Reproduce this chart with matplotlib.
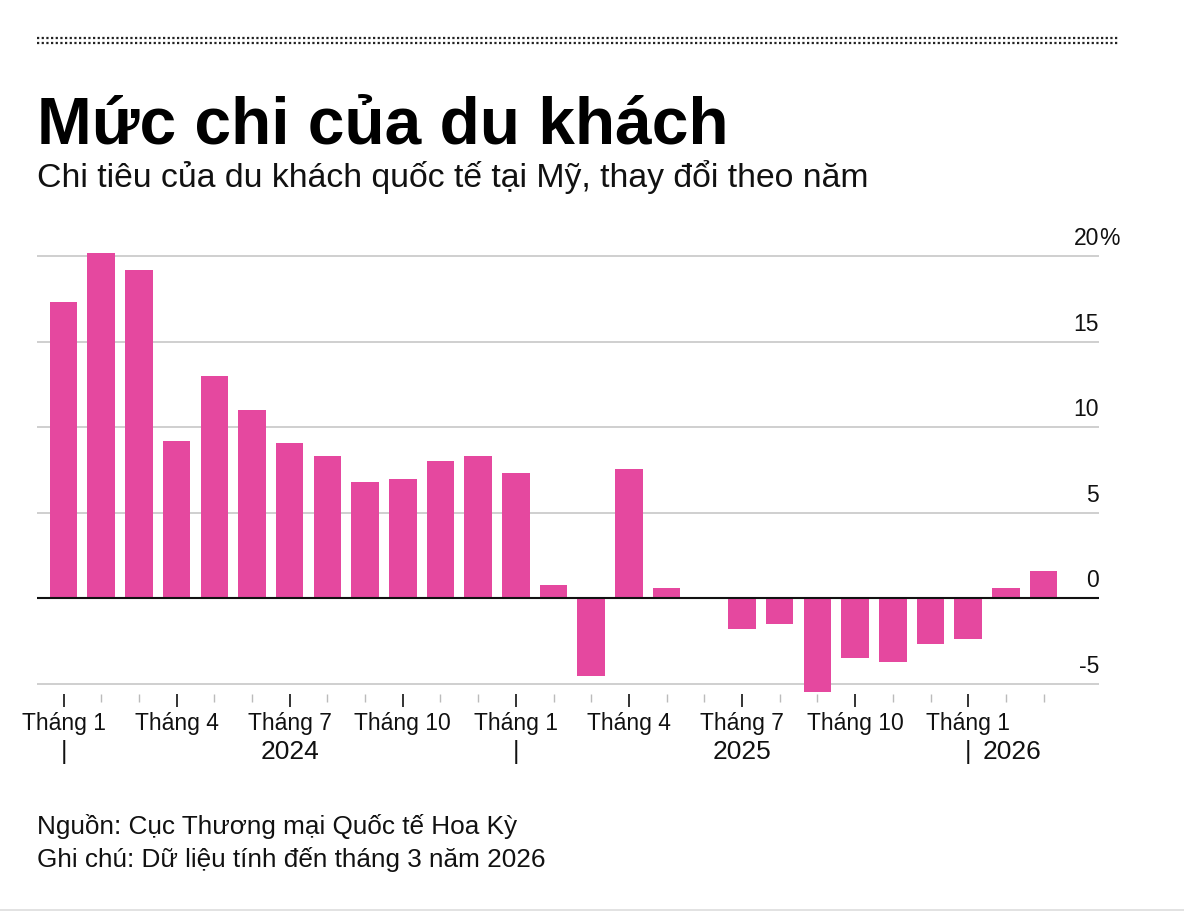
import matplotlib
matplotlib.use("Agg")
import matplotlib.pyplot as plt
from matplotlib.lines import Line2D

plt.rcParams['font.family'] = ['Liberation Sans', 'DejaVu Sans']

# Data: YoY change in international visitor spending in the US, Jan 2024 - Mar 2026
months = ["Tháng 1", "", "", "Tháng 4", "", "", "Tháng 7", "", "", "Tháng 10", "", "",
          "Tháng 1", "", "", "Tháng 4", "", "", "Tháng 7", "", "", "Tháng 10", "", "",
          "Tháng 1", "", ""]
values = [17.3, 20.2, 19.2, 9.2, 13.0, 11.0, 9.1, 8.3, 6.8, 7.0, 8.0, 8.3,
          7.3, 0.8, -4.55, 7.55, 0.6, 0.0, -1.8, -1.5, -5.5, -3.5, -3.7, -2.7,
          -2.4, 0.6, 1.6]
years = ["2024", "2025", "2026"]
y_ticks = [-5, 0, 5, 10, 15, 20]

W, H = 1184, 911
fig = plt.figure(figsize=(W / 100, H / 100), dpi=100)
fig.patch.set_facecolor("white")

def fy(px):
    return 1 - px / H

def fx(px):
    return px / W

# dotted rule at the top (two rows)
for ypx in (37.5, 43):
    fig.add_artist(Line2D([fx(37), fx(1118)], [fy(ypx), fy(ypx)], color="#222222",
                          lw=1.6, linestyle=(0, (1, 1.1)), solid_capstyle="butt"))
# thin rule at bottom
fig.add_artist(Line2D([0, 1], [fy(909.5), fy(909.5)], color="#dddddd", lw=1.2))

fig.text(fx(37), fy(143), "Mức chi của du khách", fontsize=47.4, fontweight="bold", color="#000000")
fig.text(fx(37), fy(187), "Chi tiêu của du khách quốc tế tại Mỹ, thay đổi theo năm",
         fontsize=24.3, color="#111111")

ax = fig.add_axes([fx(37), fy(694), fx(1099) - fx(37), (694 - 247.7) / H])
x = list(range(len(values)))
ax.set_xlim(-0.703, 27.47)
ax.set_ylim(-5.6, 20.5)

for t in y_ticks:
    if t == 0:
        continue
    ax.axhline(t, color="#cccccc", lw=1.3, zorder=1)
ax.bar(x, values, width=0.73, color="#E5489F", zorder=2)
ax.axhline(0, color="#111111", lw=1.5, zorder=3)

for s in ax.spines.values():
    s.set_visible(False)
ax.set_yticks([])

major = [i for i, m in enumerate(months) if m]
ax.set_xticks(major)
ax.set_xticklabels([months[i] for i in major], fontsize=16.5, color="#111111")
ax.set_xticks(x, minor=True)
ax.tick_params(axis="x", which="major", length=9, width=1.2, color="#111111", pad=4)
ax.tick_params(axis="x", which="minor", length=6, width=1.0, color="#bbbbbb")

for t in y_ticks:
    ax.annotate(str(t), xy=(1.0, t), xycoords=("axes fraction", "data"),
                xytext=(0, 8), textcoords="offset points", ha="right", va="baseline",
                fontsize=16.5, color="#111111")
ax.annotate("%", xy=(1.0, 20), xycoords=("axes fraction", "data"),
            xytext=(0, 8), textcoords="offset points", ha="left", va="baseline",
            fontsize=16.5, color="#111111")

# year labels under the month axis
trans = ax.get_xaxis_transform()
yr_y = -(759 - 694) / (694 - 247.7)
for xi in (0, 12, 24):
    ax.text(xi, yr_y, "|", transform=trans, ha="center", va="baseline", fontsize=18, color="#111111")
ax.text(6, yr_y, years[0], transform=trans, ha="center", va="baseline", fontsize=19, color="#111111")
ax.text(18, yr_y, years[1], transform=trans, ha="center", va="baseline", fontsize=19, color="#111111")
ax.text(24.37, yr_y, years[2], transform=trans, ha="left", va="baseline", fontsize=19, color="#111111")

fig.text(fx(37), fy(834), "Nguồn: Cục Thương mại Quốc tế Hoa Kỳ", fontsize=18.8, color="#111111")
fig.text(fx(37), fy(867), "Ghi chú: Dữ liệu tính đến tháng 3 năm 2026", fontsize=18.8, color="#111111")

fig.savefig("out.png", dpi=100, facecolor="white")
